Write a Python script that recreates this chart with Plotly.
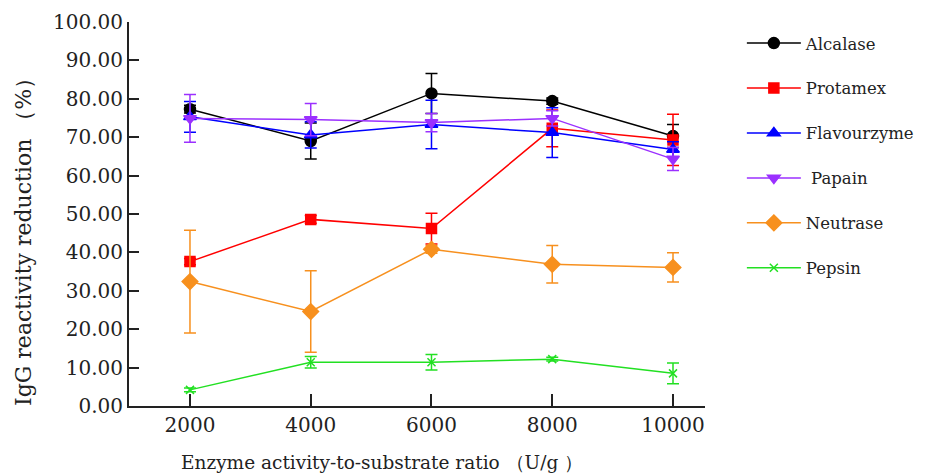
import plotly.graph_objects as go

ratios = [2000, 4000, 6000, 8000, 10000]
x_ticks = [2000, 4000, 6000, 8000, 10000]
y_ticks = [0, 10, 20, 30, 40, 50, 60, 70, 80, 90, 100]
y_tick_labels = ["0.00", "10.00", "20.00", "30.00", "40.00", "50.00", "60.00", "70.00", "80.00", "90.00", "100.00"]

alcalase = [77.3, 69.0, 81.4, 79.4, 70.3]
alcalase_err = [1.0, 4.7, 5.2, 0.8, 3.0]
protamex = [37.6, 48.6, 46.2, 72.3, 69.3]
protamex_err = [0.8, 1.0, 4.0, 4.8, 6.7]
flavourzyme = [75.3, 70.6, 73.3, 71.2, 66.8]
flavourzyme_err = [4.0, 3.4, 6.3, 6.5, 2.0]
papain = [74.9, 74.6, 73.8, 74.9, 64.3]
papain_err = [6.2, 4.2, 2.4, 2.0, 3.0]
neutrase = [32.4, 24.6, 40.8, 36.9, 36.1]
neutrase_err = [13.4, 10.6, 1.0, 4.9, 3.8]
pepsin = [4.2, 11.4, 11.4, 12.2, 8.5]
pepsin_err = [0.5, 1.5, 2.0, 0.5, 2.7]

series = [
    ("Alcalase", alcalase, alcalase_err, "#000000", "circle", 11),
    ("Protamex", protamex, protamex_err, "#ff0000", "square", 10),
    ("Flavourzyme", flavourzyme, flavourzyme_err, "#0000ff", "triangle-up", 11),
    (" Papain", papain, papain_err, "#9b30ff", "triangle-down", 11),
    ("Neutrase", neutrase, neutrase_err, "#f7901e", "diamond", 12),
    ("Pepsin", pepsin, pepsin_err, "#22e022", "x-thin-open", 8),
]

font = "'DejaVu Serif', serif"
fig = go.Figure()
for i, (name, vals, errs, color, sym, size) in enumerate(series):
    fig.add_trace(go.Scatter(
        x=ratios, y=vals, name=name, mode="lines+markers",
        legendgroup=str(i),
        line=dict(color=color, width=1.5),
        marker=dict(color=color, symbol=sym, size=size,
                    line=dict(color=color, width=1.5)),
        error_y=dict(type="data", array=errs, visible=True,
                     color=color, thickness=1.5, width=6),
    ))

fig.add_annotation(
    text="Enzyme activity-to-substrate ratio （U/g ）",
    xref="paper", yref="paper", x=(382 - 129) / 576, y=-(454 - 398) / 384,
    xanchor="center", yanchor="middle", showarrow=False,
    font=dict(family=font, size=18.5, color="#222"),
)
fig.add_annotation(
    text="IgG reactivity reduction （%）",
    xref="paper", yref="paper", x=(16 - 121) / 576, y=(398 - 229) / 384,
    xanchor="center", yanchor="middle", showarrow=False, textangle=-90,
    font=dict(family=font, size=22, color="#222"),
)

fig.update_layout(
    width=917, height=466,
    margin=dict(l=121, r=220, t=14, b=68, autoexpand=False),
    plot_bgcolor="white", paper_bgcolor="white",
    font=dict(family=font, size=19, color="#222"),
    showlegend=True,
    legend=dict(x=1.064, y=0.99, xanchor="left", yanchor="top",
                font=dict(family=font, size=16.5, color="#222"),
                traceorder="grouped", tracegroupgap=20.5,
                itemwidth=54,
                bgcolor="rgba(0,0,0,0)"),
    xaxis=dict(range=[990, 10530], tickvals=x_ticks,
               ticktext=[str(t) for t in x_ticks],
               showgrid=False, zeroline=False, showline=True,
               linecolor="#222", linewidth=2, ticks="inside",
               ticklen=12, tickwidth=2, tickcolor="#222",
               automargin=False,
               tickfont=dict(family=font, size=20, color="#222")),
    yaxis=dict(range=[0, 100], tickvals=y_ticks, ticktext=y_tick_labels,
               showgrid=False, zeroline=False, showline=True,
               linecolor="#222", linewidth=2, ticks="inside",
               ticklen=10, tickwidth=2, tickcolor="#222",
               automargin=False,
               tickfont=dict(family=font, size=20, color="#222")),
)

fig.write_html("out.html")
